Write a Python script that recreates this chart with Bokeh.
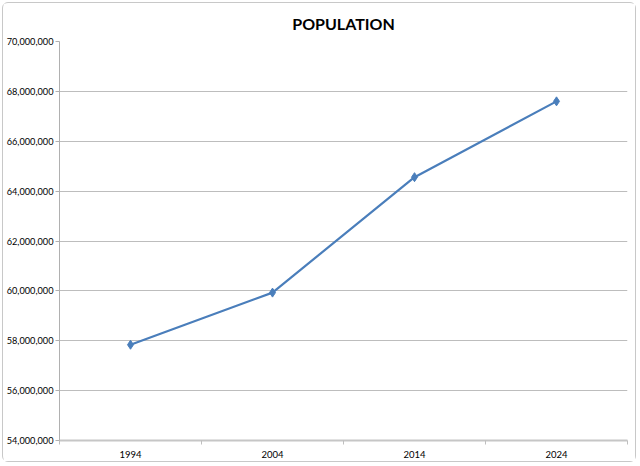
from bokeh.plotting import figure
from bokeh.models import FixedTicker, NumeralTickFormatter, Range1d
from bokeh.embed import file_html
from bokeh.resources import INLINE

# data
years = [1994, 2004, 2014, 2024]
population = [57840000, 59930000, 64560000, 67600000]
y_ticks = [54000000, 56000000, 58000000, 60000000, 62000000, 64000000, 66000000, 68000000, 70000000]
x_bounds = [1989, 1999, 2009, 2019, 2029]

font = "Lato"
blue = "#4a7ebb"

p = figure(
    width=634, height=460,
    title="POPULATION",
    output_backend="svg",
    toolbar_location=None,
    x_range=Range1d(1989, 2029),
    y_range=Range1d(54000000, 70000000),
    min_border_left=56, min_border_right=10,
    min_border_top=38, min_border_bottom=23,
    styles={"margin": "2px", "border": "1px solid #c8c8c8", "border-radius": "6px"},
)

p.line(years, population, line_color=blue, line_width=2.2)
p.scatter(years, population, marker="diamond", size=9, fill_color=blue, line_color=blue)

# title
p.title.text_font = font
p.title.text_font_size = "16px"
p.title.text_font_style = "bold"
p.title.align = "center"
p.title.vertical_align = "top"
p.title.text_color = "#000000"
p.title.offset = 0
p.title.standoff = 14

# x axis: labels at years, small ticks at category boundaries
p.xaxis.ticker = FixedTicker(ticks=years, minor_ticks=x_bounds)
p.xaxis.major_tick_line_color = None
p.xaxis.major_tick_out = 0
p.xaxis.major_tick_in = 0
p.xaxis.minor_tick_line_color = "#bfbfbf"
p.xaxis.minor_tick_out = 4
p.xaxis.minor_tick_in = 0
p.xaxis.axis_line_color = "#c6c6c6"
p.xaxis.axis_line_width = 2
p.xaxis.major_label_text_font = font
p.xaxis.major_label_text_font_size = "9.5px"
p.xaxis.major_label_text_color = "#000000"
p.xaxis.major_label_standoff = 6

# y axis
p.yaxis.ticker = FixedTicker(ticks=y_ticks, minor_ticks=[])
p.yaxis.formatter = NumeralTickFormatter(format="0,0")
p.yaxis.axis_line_color = "#b0b0b0"
p.yaxis.major_tick_line_color = "#b0b0b0"
p.yaxis.major_tick_out = 4
p.yaxis.major_tick_in = 0
p.yaxis.major_label_text_font = font
p.yaxis.major_label_text_font_size = "9.2px"
p.yaxis.major_label_text_color = "#000000"
p.yaxis.major_label_standoff = 2

p.xgrid.grid_line_color = None
p.ygrid.grid_line_color = "#bdbdbd"
p.ygrid.grid_line_width = 1
p.outline_line_color = None

open("out.html", "w").write(file_html(p, INLINE))
